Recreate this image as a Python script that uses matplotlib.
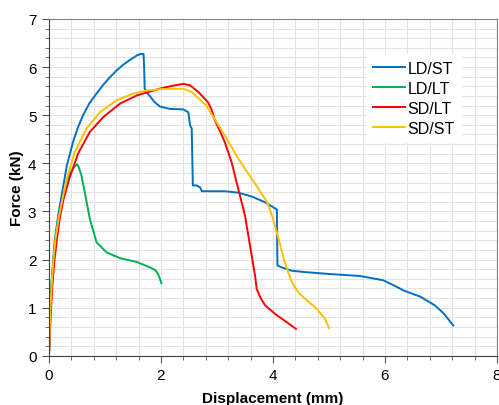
import numpy as np
import matplotlib
matplotlib.use('Agg')
import matplotlib.pyplot as plt
from matplotlib.ticker import MultipleLocator

plt.rcParams.update({
    'font.family': 'sans-serif', 'font.sans-serif': ['Liberation Sans', 'DejaVu Sans'],
    'font.size': 11,
})

# LD/ST (blue)
ld_st_x = [0, 0.01, 0.02, 0.05, 0.08, 0.11, 0.17, 0.23, 0.32, 0.43, 0.52, 0.61, 0.72, 0.85, 0.97,
           1.09, 1.21, 1.33, 1.45, 1.57, 1.63, 1.69, 1.70, 1.71, 1.75, 1.80, 1.88, 1.98, 2.16,
           2.40, 2.49, 2.52, 2.55, 2.57, 2.64, 2.70, 2.73, 3.14, 3.38, 3.62, 3.86, 4.07, 4.08,
           4.15, 4.33, 4.57, 5.02, 5.55, 5.97, 6.15, 6.33, 6.63, 6.89, 7.05, 7.22]
ld_st_y = [0, 0.25, 0.85, 1.55, 2.05, 2.45, 2.95, 3.35, 3.95, 4.44, 4.75, 5.00, 5.24, 5.45, 5.63,
           5.79, 5.93, 6.05, 6.15, 6.24, 6.27, 6.27, 6.00, 5.55, 5.47, 5.40, 5.28, 5.18, 5.13,
           5.12, 5.06, 4.79, 4.72, 3.54, 3.54, 3.50, 3.42, 3.42, 3.39, 3.31, 3.19, 3.04, 1.88,
           1.84, 1.77, 1.74, 1.70, 1.66, 1.57, 1.47, 1.36, 1.23, 1.05, 0.88, 0.63]

# LD/LT (green)
ld_lt_x = [0, 0.01, 0.02, 0.05, 0.08, 0.11, 0.17, 0.23, 0.30, 0.375, 0.45, 0.50, 0.53, 0.58,
           0.64, 0.73, 0.85, 1.03, 1.27, 1.57, 1.80, 1.90, 1.95, 2.01]
ld_lt_y = [0, 0.25, 0.8, 1.5, 1.95, 2.35, 2.8, 3.15, 3.5, 3.78, 3.92, 3.98, 3.93, 3.75,
           3.40, 2.85, 2.36, 2.15, 2.03, 1.95, 1.84, 1.78, 1.70, 1.51]

# SD/LT (red)
sd_lt_x = [0, 0.01, 0.03, 0.06, 0.10, 0.14, 0.20, 0.26, 0.375, 0.52, 0.73, 0.97, 1.27, 1.57,
           1.80, 1.98, 2.20, 2.40, 2.52, 2.67, 2.84, 2.90, 2.96, 3.05, 3.14, 3.26, 3.38, 3.50,
           3.59, 3.68, 3.71, 3.78, 3.86, 4.04, 4.21, 4.41]
sd_lt_y = [0, 0.25, 0.8, 1.45, 2.0, 2.4, 2.9, 3.25, 3.72, 4.20, 4.65, 4.96, 5.24, 5.41,
           5.49, 5.55, 5.61, 5.65, 5.62, 5.48, 5.27, 5.13, 4.90, 4.68, 4.44, 4.03, 3.47, 2.92,
           2.29, 1.67, 1.39, 1.20, 1.05, 0.87, 0.73, 0.56]

# SD/ST (yellow)
sd_st_x = [0, 0.01, 0.02, 0.05, 0.08, 0.12, 0.18, 0.24, 0.32, 0.46, 0.67, 0.91, 1.21, 1.51,
           1.74, 1.98, 2.20, 2.40, 2.55, 2.81, 2.99, 3.14, 3.38, 3.62, 3.80, 3.91, 4.00, 4.10,
           4.21, 4.33, 4.45, 4.57, 4.78, 4.93, 5.00]
sd_st_y = [0, 0.25, 0.8, 1.5, 2.0, 2.45, 2.9, 3.25, 3.68, 4.23, 4.72, 5.06, 5.31, 5.45,
           5.51, 5.54, 5.55, 5.55, 5.48, 5.20, 4.86, 4.58, 4.10, 3.68, 3.37, 3.16, 2.85, 2.43,
           1.95, 1.55, 1.32, 1.19, 0.98, 0.77, 0.58]

series = [
    ('LD/ST', ld_st_x, ld_st_y, '#0070C0'),
    ('LD/LT', ld_lt_x, ld_lt_y, '#00B050'),
    ('SD/LT', sd_lt_x, sd_lt_y, '#FF0000'),
    ('SD/ST', sd_st_x, sd_st_y, '#FFC000'),
]

fig = plt.figure(figsize=(4.99, 4.06), dpi=100)
ax = fig.add_axes([0.098, 0.121, 0.898, 0.830])

for label, xs, ys, c in series:
    ax.plot(xs, ys, color=c, linewidth=1.4, label=label)

ax.set_xlim(0, 8)
ax.set_ylim(0, 7)
ax.xaxis.set_major_locator(MultipleLocator(2))
ax.xaxis.set_minor_locator(MultipleLocator(0.4))
ax.yaxis.set_major_locator(MultipleLocator(1))
ax.yaxis.set_minor_locator(MultipleLocator(0.2))
ax.grid(True, which='both', color='#e3e3e3', linewidth=0.8)
ax.set_axisbelow(True)
ax.tick_params(which='both', direction='out', color='#595959', labelsize=11)
ax.tick_params(which='major', length=5, pad=4)
ax.tick_params(which='minor', length=3)

for s in ['top', 'right']:
    ax.spines[s].set_color('#808080')
for s in ['left', 'bottom']:
    ax.spines[s].set_color('#404040')

ax.set_xlabel('Displacement (mm)', fontweight='bold', fontsize=11, labelpad=6)
ax.set_ylabel('Force (kN)', fontweight='bold', fontsize=11, labelpad=3)

leg = ax.legend(loc='upper left', bbox_to_anchor=(0.709, 0.895), frameon=True,
                fontsize=11.5, handlelength=2.0, handletextpad=0.15, labelspacing=0.32,
                borderaxespad=0, borderpad=0.4, fancybox=False)
leg.get_frame().set_facecolor('white')
leg.get_frame().set_edgecolor('white')
leg.get_frame().set_alpha(1)

fig.savefig('out.png', dpi=100)
